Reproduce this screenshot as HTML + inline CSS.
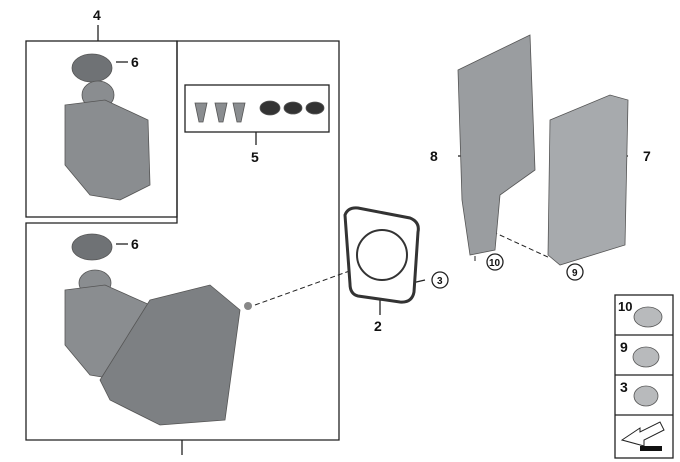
<!DOCTYPE html>
<html><head><style>body{margin:0;background:#fff}svg{display:block}text{font-family:"Liberation Sans",sans-serif;font-weight:bold;fill:#111}</style></head><body>
<svg width="680" height="462" viewBox="0 0 680 462" xmlns="http://www.w3.org/2000/svg">
<g fill="none" stroke="#222" stroke-width="1.3">
<rect x="26" y="41" width="151" height="176"/>
<polyline points="177,217 177,41 339,41 339,440 26,440 26,223 177,223 177,217"/>
<rect x="185" y="85" width="144" height="47"/>
<line x1="98" y1="25" x2="98" y2="41"/><line x1="256" y1="132" x2="256" y2="145"/>
<line x1="116" y1="62" x2="128" y2="62"/><line x1="116" y1="244" x2="128" y2="244"/>
<line x1="182" y1="440" x2="182" y2="455"/>
<line x1="380" y1="300" x2="380" y2="315"/>
<line x1="458" y1="156" x2="468" y2="156"/><line x1="615" y1="156" x2="628" y2="156"/>
<line x1="412" y1="283" x2="425" y2="280"/>
<rect x="615" y="295" width="58" height="163"/>
<line x1="615" y1="335" x2="673" y2="335"/><line x1="615" y1="375" x2="673" y2="375"/><line x1="615" y1="415" x2="673" y2="415"/>
<circle cx="440" cy="280" r="8"/><circle cx="495" cy="262" r="8"/><circle cx="575" cy="272" r="8"/>
</g>
<g stroke="#222" stroke-width="1" stroke-dasharray="5,3" fill="none">
<line x1="255" y1="305" x2="380" y2="260"/><line x1="478" y1="225" x2="550" y2="258"/><line x1="475" y1="240" x2="475" y2="262"/>
</g>
<g fill="#8a8d90" stroke="#555" stroke-width="0.8">
<ellipse cx="92" cy="68" rx="20" ry="14" fill="#6f7275"/>
<ellipse cx="98" cy="95" rx="16" ry="14"/>
<path d="M65 105 L105 100 L148 120 L150 185 L120 200 L90 195 L65 165 Z"/>
<ellipse cx="92" cy="247" rx="20" ry="13" fill="#6f7275"/>
<ellipse cx="95" cy="283" rx="16" ry="13"/>
<path d="M65 290 L105 285 L150 305 L150 365 L120 380 L90 375 L65 345 Z"/>
<path d="M150 300 L210 285 L240 310 L225 420 L160 425 L110 400 L100 380 Z" fill="#7d8083"/>
<path d="M458 70 L530 35 L535 170 L500 195 L495 250 L470 255 L462 200 Z" fill="#9a9da0"/>
<path d="M550 120 L610 95 L628 100 L625 245 L560 265 L548 255 Z" fill="#a7aaad"/>
<polygon points="195,103 207,103 203,122 199,122" /><polygon points="215,103 227,103 223,122 219,122"/><polygon points="233,103 245,103 241,122 237,122"/>
<ellipse cx="270" cy="108" rx="10" ry="7" fill="#333"/><ellipse cx="293" cy="108" rx="9" ry="6" fill="#333"/><ellipse cx="315" cy="108" rx="9" ry="6" fill="#333"/>
<ellipse cx="648" cy="317" rx="14" ry="10" fill="#b8babc"/><ellipse cx="646" cy="357" rx="13" ry="10" fill="#b8babc"/><ellipse cx="646" cy="396" rx="12" ry="10" fill="#b8babc"/>
</g>
<path d="M345 215 Q348 207 358 208 L410 218 Q420 222 418 232 L414 292 Q412 303 400 302 L358 296 Q350 294 350 284 Z" fill="#fff" stroke="#333" stroke-width="3"/>
<circle cx="382" cy="255" r="25" fill="#fff" stroke="#333" stroke-width="2"/>
<circle cx="248" cy="306" r="4" fill="#888"/>
<path d="M622 440 L640 428 L640 432 L660 422 L664 430 L644 440 L644 446 Z" fill="#fff" stroke="#222"/>
<rect x="640" y="446" width="22" height="5" fill="#111"/>
<g font-size="14">
<text x="93" y="20">4</text><text x="131" y="67">6</text><text x="251" y="162">5</text>
<text x="131" y="249">6</text><text x="374" y="331">2</text><text x="430" y="161">8</text><text x="643" y="161">7</text>
<text x="618" y="311" font-size="13">10</text><text x="620" y="352">9</text><text x="620" y="392">3</text>
</g>
<g font-size="10"><text x="437" y="284">3</text><text x="489" y="266">10</text><text x="572" y="276">9</text></g>
</svg>
</body></html>
